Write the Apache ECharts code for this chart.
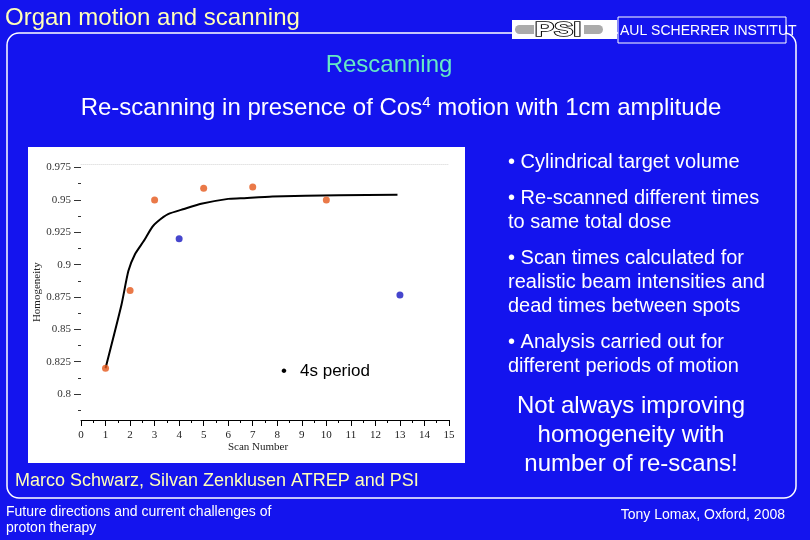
<!DOCTYPE html>
<html><head><meta charset="utf-8">
<script src="https://cdn.jsdelivr.net/npm/echarts@6/dist/echarts.min.js"></script>
<style>html,body{margin:0;padding:0;background:#1414EE}#c{width:810px;height:540px}</style>
</head><body><div id="c"></div>
<script>
// ---- data ----
const orangeScans = [1, 2, 3, 5, 7, 10];
const orangeHomogeneity = [0.820, 0.880, 0.950, 0.959, 0.960, 0.950];
const blueScans = [4, 13];
const blueHomogeneity = [0.920, 0.8765];
const fitScans = [1, 1.65, 1.93, 2.2, 2.55, 2.9, 3.1, 3.55, 4.2, 4.9, 6, 6.5, 7.8, 10.5, 12.9];
const fitHomogeneity = [0.820, 0.869, 0.895, 0.908, 0.918, 0.929, 0.933, 0.939, 0.943, 0.947, 0.9508, 0.9512, 0.9527, 0.9535, 0.954];
const xTickLabels = ['0','1','2','3','4','5','6','7','8','9','10','11','12','13','14','15'];
const yTickLabels = ['0.8','0.825','0.85','0.875','0.9','0.925','0.95','0.975'];
const yMinorTicks = [0.7875, 0.8125, 0.8375, 0.8625, 0.8875, 0.9125, 0.9375, 0.9625];
const bullets = [
  ['• Cylindrical target volume'],
  ['• Re-scanned different times', 'to same total dose'],
  ['• Scan times calculated for', 'realistic beam intensities and', 'dead times between spots'],
  ['• Analysis carried out for', 'different periods of motion']
];
const bulletTops = [162, 198, 258, 342];
const conclusion = ['Not always improving', 'homogeneity with', 'number of re-scans!'];

const yTickValues = yTickLabels.map(Number);
const SANS = '"Liberation Sans", Arial, sans-serif';
const SERIF = '"Liberation Serif", "Times New Roman", serif';

const graphics = [];
// rounded slide frame
graphics.push({type:'rect', shape:{x:7, y:33, width:789, height:465, r:12},
  style:{fill:'none', stroke:'#ffffff', lineWidth:1.5}});
// white chart panel
graphics.push({type:'rect', shape:{x:28, y:147, width:437, height:316},
  style:{fill:'#ffffff'}});
// PSI logo
graphics.push({type:'rect', shape:{x:512, y:20, width:105, height:19}, style:{fill:'#ffffff'}});
graphics.push({type:'rect', shape:{x:515, y:25, width:88, height:9, r:4.5}, style:{fill:'#ababab'}});
graphics.push({type:'rect', shape:{x:534, y:20, width:50, height:19}, style:{fill:'#ffffff'}});
graphics.push({type:'text', x:558, y:30, scaleX:1.45, style:{text:'PSI', font:'bold 20px ' + SANS,
  fill:'#ffffff', stroke:'#000000', lineWidth:1.5, align:'center', verticalAlign:'middle'}});
// institute box
graphics.push({type:'rect', shape:{x:618, y:17, width:168, height:26},
  style:{fill:'#1414EE', stroke:'#ffffff', lineWidth:1}});
graphics.push({type:'text', x:620, y:31, style:{text:'AUL SCHERRER INSTITUT', font:'14px ' + SANS,
  fill:'#ffffff', align:'left', verticalAlign:'middle'}});
// titles
graphics.push({type:'text', x:5, y:18, style:{text:'Organ motion and scanning', font:'24px ' + SANS,
  fill:'#FFFFB8', align:'left', verticalAlign:'middle'}});
graphics.push({type:'text', x:389, y:65, style:{text:'Rescanning', font:'24px ' + SANS,
  fill:'#66EAC4', align:'center', verticalAlign:'middle'}});
graphics.push({type:'text', x:401, y:108, style:{
  text:'Re-scanning in presence of Cos{sup|4} motion with 1cm amplitude',
  font:'24px ' + SANS, fill:'#ffffff', align:'center', verticalAlign:'middle',
  rich:{sup:{fontSize:15, fontFamily:'"Liberation Sans", Arial, sans-serif', fill:'#ffffff', padding:[0,0,11,0]}}}});
// bullet text
bullets.forEach((lines, i) => {
  lines.forEach((t, j) => {
    graphics.push({type:'text', x:508, y:bulletTops[i] + j*24, style:{text:t, font:'20px ' + SANS,
      fill:'#ffffff', align:'left', verticalAlign:'middle'}});
  });
});
conclusion.forEach((t, j) => {
  graphics.push({type:'text', x:631, y:406 + j*29, style:{text:t, font:'24px ' + SANS,
    fill:'#ffffff', align:'center', verticalAlign:'middle'}});
});
// legend text inside chart
graphics.push({type:'text', x:284, y:371, style:{text:'•', font:'17px ' + SANS, fill:'#000000',
  align:'center', verticalAlign:'middle'}});
graphics.push({type:'text', x:300, y:371, style:{text:'4s period', font:'17px ' + SANS, fill:'#000000',
  align:'left', verticalAlign:'middle'}});
// credits
graphics.push({type:'text', x:15, y:481, style:{text:'Marco Schwarz, Silvan Zenklusen ATREP and PSI',
  font:'18px ' + SANS, fill:'#FFFFB8', align:'left', verticalAlign:'middle'}});
graphics.push({type:'text', x:6, y:512, style:{text:'Future directions and current challenges of',
  font:'14px ' + SANS, fill:'#ffffff', align:'left', verticalAlign:'middle'}});
graphics.push({type:'text', x:6, y:528, style:{text:'proton therapy',
  font:'14px ' + SANS, fill:'#ffffff', align:'left', verticalAlign:'middle'}});
graphics.push({type:'text', x:785, y:515, style:{text:'Tony Lomax, Oxford, 2008',
  font:'14px ' + SANS, fill:'#ffffff', align:'right', verticalAlign:'middle'}});

const chart = echarts.init(document.getElementById('c'), null, {renderer:'canvas'});
chart.setOption({
  backgroundColor:'#1414EE',
  animation:false,
  graphic:{elements:graphics},
  grid:{left:81, right:361, top:164.3, bottom:120, containLabel:false},
  xAxis:[{
    type:'value', min:0, max:15, interval:1,
    axisLine:{show:true, lineStyle:{color:'#000', width:1}},
    axisTick:{show:true, length:6, lineStyle:{color:'#000'}},
    minorTick:{show:true, splitNumber:2, length:3, lineStyle:{color:'#000'}},
    splitLine:{show:false},
    axisLabel:{margin:10, color:'#222', fontFamily:SERIF, fontSize:11,
      formatter:(v) => xTickLabels[Math.round(v)] ?? ''},
    name:'Scan Number', nameLocation:'middle', nameGap:21,
    nameTextStyle:{color:'#222', fontFamily:SERIF, fontSize:11, padding:[0,14,0,0]}
  },{
    type:'value', min:0, max:15, position:'top',
    axisLine:{show:true, lineStyle:{color:'#e4e4e4', type:'dotted', width:1}},
    axisTick:{show:false}, axisLabel:{show:false}, splitLine:{show:false}
  }],
  yAxis:[{
    type:'value', min:0.78, max:0.9775,
    axisLine:{show:false},
    axisTick:{show:true, length:7, customValues:yTickValues, lineStyle:{color:'#333'}},
    axisLabel:{margin:10, color:'#333', fontFamily:SERIF, fontSize:11, customValues:yTickValues,
      formatter:(v) => { const i = yTickValues.findIndex(t => Math.abs(t - v) < 1e-6); return i >= 0 ? yTickLabels[i] : ''; }},
    splitLine:{show:false},
    name:'Homogeneity', nameLocation:'middle', nameGap:37,
    nameTextStyle:{color:'#222', fontFamily:SERIF, fontSize:11}
  },{
    type:'value', min:0.78, max:0.9775, position:'left',
    axisLine:{show:false},
    axisTick:{show:true, length:3, customValues:yMinorTicks, lineStyle:{color:'#333'}},
    axisLabel:{show:false}, splitLine:{show:false}
  }],
  series:[{
    type:'line', xAxisIndex:0, yAxisIndex:0, z:2,
    data:fitScans.map((x, i) => [x, fitHomogeneity[i]]),
    showSymbol:false, symbol:'none', smooth:0.2,
    lineStyle:{color:'#000', width:2}
  },{
    type:'scatter', xAxisIndex:0, yAxisIndex:0, z:3,
    data:orangeScans.map((x, i) => [x, orangeHomogeneity[i]]),
    symbolSize:7, itemStyle:{color:'#E5571A'}
  },{
    type:'scatter', xAxisIndex:0, yAxisIndex:0, z:3,
    data:blueScans.map((x, i) => [x, blueHomogeneity[i]]),
    symbolSize:7, itemStyle:{color:'#1818C0'}
  }]
});
</script></body></html>
